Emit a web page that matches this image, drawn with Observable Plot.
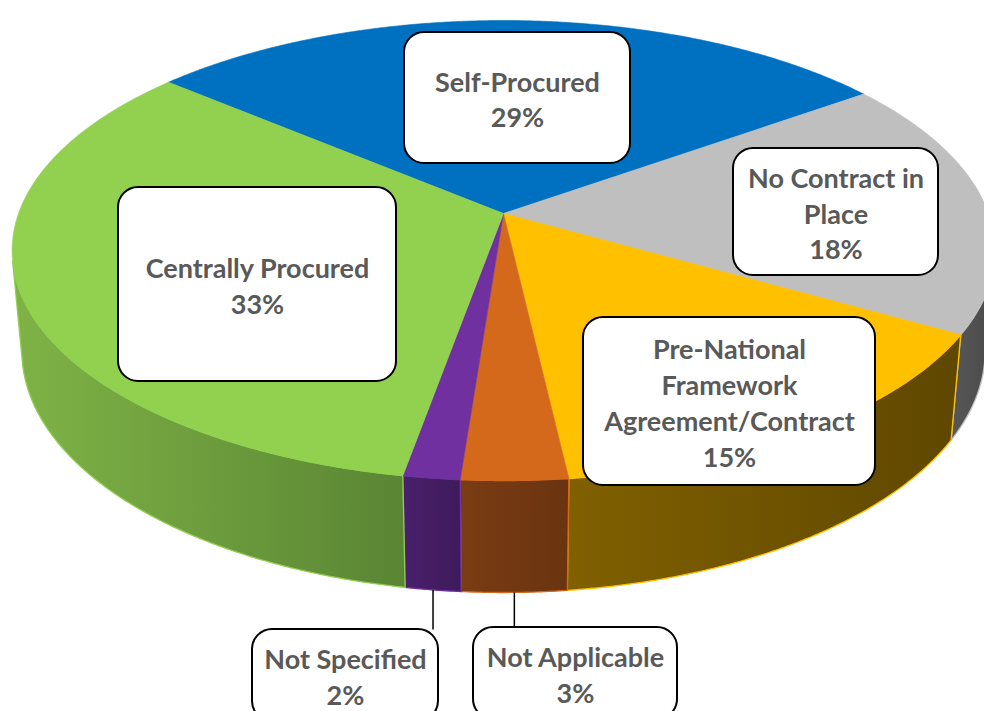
<!DOCTYPE html>
<html>
<head>
<meta charset="utf-8">
<script src="https://cdn.jsdelivr.net/npm/d3@7"></script>
<script src="https://cdn.jsdelivr.net/npm/@observablehq/plot@0.6"></script>
<style>
  html, body { margin: 0; padding: 0; background: #fff; }
  #chart svg { display: block; }
</style>
</head>
<body>
<div id="chart"></div>
<script>
// ---- data ----
const categories = ["Self-Procured", "No Contract in Place", "Pre-National Framework Agreement/Contract", "Not Applicable", "Not Specified", "Centrally Procured"];
const values = [28.9, 18.2, 14.9, 3.0, 1.6, 33.4];
const labelLines = ["Self-Procured", "No Contract in\nPlace", "Pre-National\nFramework\nAgreement/Contract", "Not Applicable", "Not Specified", "Centrally Procured"];
const topColors = ["#0070C0", "#BFBFBF", "#FFC000", "#D4691B", "#7030A0", "#92D050"];
const sideColorsLeft = ["#00457a", "#575757", "#806000", "#7a3c13", "#4a206c", "#7FB346"];
const sideColorsRight = ["#003a66", "#4a4a4a", "#5f4700", "#6a3410", "#3e1a5b", "#5A8534"];

// ---- layout (label boxes, in chart pixels) ----
const boxCx = [517, 835.5, 729, 575, 345, 257];
const boxCy = [97.5, 211.5, 401, 673, 675, 284];
const boxW = [226, 205, 292, 204, 186, 278];
const boxH = [131, 127, 168, 92, 92, 194];
const leader = [false, false, false, true, true, false];

// ---- 3D perspective projection of the pie ----
const W = 984, H = 711;
const proj = {cx: 503, cy: 213, f: 2672, L: 1, R: 0.1815, T: 0.0428, sinPhi: 0.462};
proj.cosPhi = Math.sqrt(1 - proj.sinPhi * proj.sinPhi);
const startAngle = 310.3 * Math.PI / 180;

function project(theta, r, Yw) {
  const X = r * Math.sin(theta), Z = r * Math.cos(theta);
  const yc = Z * proj.sinPhi + Yw * proj.cosPhi;
  const zc = proj.L + Z * proj.cosPhi - Yw * proj.sinPhi;
  return {x: proj.cx + proj.f * X / zc, y: proj.cy - proj.f * yc / zc};
}

const arcs = d3.pie().sort(null).value(d => d).startAngle(startAngle).endAngle(startAngle + 2 * Math.PI)(values);

function arcPts(a0, a1, r, Yw) {
  const n = Math.max(2, Math.ceil(Math.abs(a1 - a0) / (0.4 * Math.PI / 180)));
  return d3.range(n + 1).map(i => project(a0 + (a1 - a0) * i / n, r, Yw));
}

// visible part of outer wall: cos(theta) < -R/(L cos phi)
const cLim = -proj.R / (proj.L * proj.cosPhi);
const thL = Math.acos(cLim);               // right silhouette
const thR = 2 * Math.PI - Math.acos(cLim); // left silhouette

const walls = [];
arcs.forEach((a, i) => {
  for (const k of [0, 2 * Math.PI]) {
    const lo = Math.max(a.startAngle, thL + k), hi = Math.min(a.endAngle, thR + k);
    if (hi > lo) {
      const top = arcPts(lo, hi, proj.R, 0);
      const bot = arcPts(hi, lo, proj.R, -proj.T);
      walls.push({i, pts: [...top, ...bot, top[0]]});
    }
  }
});

const tops = arcs.map((a, i) => ({i, pts: [project(0, 0, 0), ...arcPts(a.startAngle, a.endAngle, proj.R, 0), project(0, 0, 0)]}));

const labels = arcs.map((a, i) => {
  const mid = (a.startAngle + a.endAngle) / 2;
  const foot = project(mid, proj.R, -proj.T);
  return {
    text: `${labelLines[i]}\n${Math.round(values[i])}%`,
    cx: boxCx[i], cy: boxCy[i],
    x1: boxCx[i] - boxW[i] / 2, x2: boxCx[i] + boxW[i] / 2,
    y1: boxCy[i] - boxH[i] / 2, y2: boxCy[i] + boxH[i] / 2,
    lx: foot.x, ly1: foot.y, ly2: boxCy[i] - boxH[i] / 2, leader: leader[i]
  };
});

// gradient defs
const defs = () => {
  const g = d3.create("svg:defs");
  topColors.forEach((c, i) => {
    const lg = g.append("linearGradient").attr("id", "side" + i).attr("x1", 0).attr("x2", 1).attr("y1", 0).attr("y2", 0);
    lg.append("stop").attr("offset", "0%").attr("stop-color", sideColorsLeft[i]);
    lg.append("stop").attr("offset", "100%").attr("stop-color", sideColorsRight[i]);
  });
  return g.node();
};

const font = "Lato, 'Open Sans', sans-serif";

const chart = Plot.plot({
  width: W, height: H,
  margin: 0,
  x: {domain: [0, W], range: [0, W], axis: null},
  y: {domain: [0, H], range: [0, H], axis: null},
  style: {background: "white"},
  marks: [
    defs,
    ...walls.map(w => Plot.line(w.pts, {x: "x", y: "y", fill: `url(#side${w.i})`, stroke: topColors[w.i], strokeWidth: 1.3, strokeLinejoin: "round"})),
    ...tops.map(t => Plot.line(t.pts, {x: "x", y: "y", fill: topColors[t.i], stroke: topColors[t.i], strokeWidth: 0.6})),
    Plot.link(labels.filter(d => d.leader), {x1: "lx", x2: "lx", y1: "ly1", y2: "ly2", stroke: "black", strokeWidth: 1.5}),
    Plot.rect(labels, {x1: "x1", x2: "x2", y1: "y1", y2: "y2", rx: 20, fill: "white", stroke: "black", strokeWidth: 2}),
    Plot.text(labels, {x: "cx", y: "cy", text: "text", fontFamily: font, fontWeight: "bold", fontSize: 27, lineHeight: 1.33, fill: "#595959", textAnchor: "middle", lineAnchor: "middle"})
  ]
});
document.getElementById("chart").appendChild(chart);
</script>
</body>
</html>
